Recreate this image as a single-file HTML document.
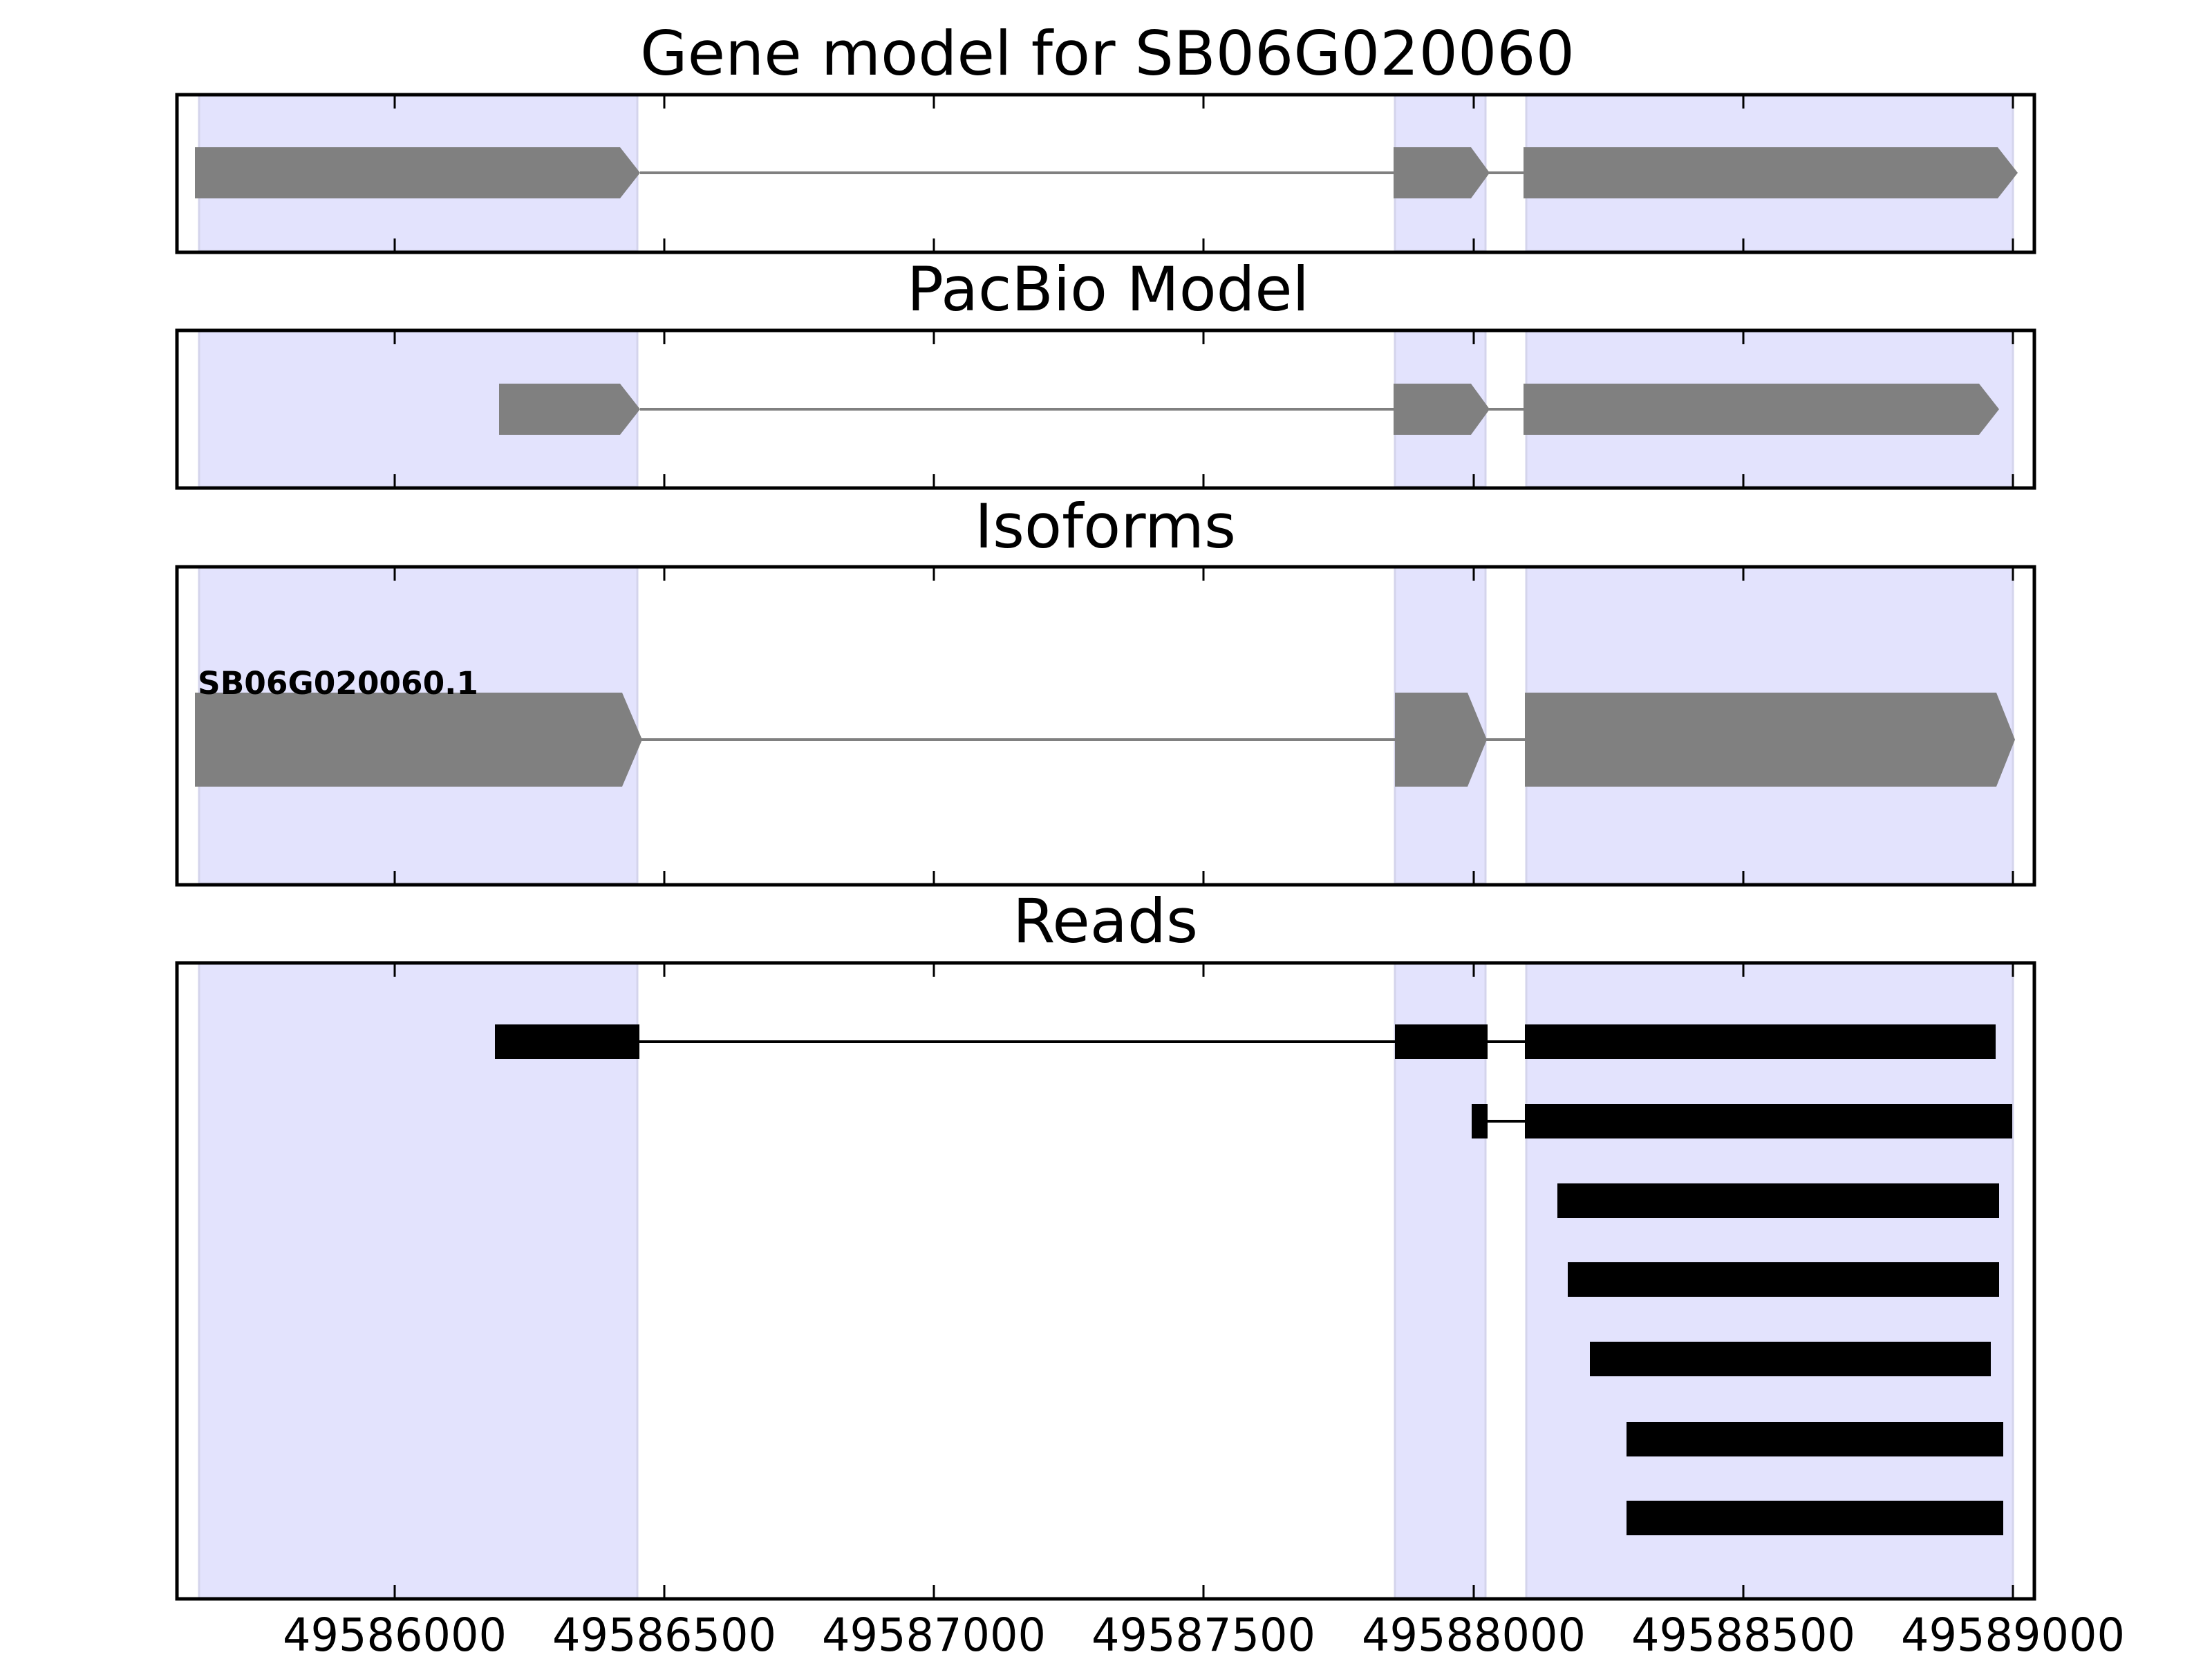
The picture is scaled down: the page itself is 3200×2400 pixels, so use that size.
<!DOCTYPE html>
<html><head><meta charset="utf-8"><style>html,body{margin:0;padding:0;background:#fff}svg{display:block}</style></head>
<body>
<svg width="3200" height="2400" viewBox="0 0 3200 2400" xmlns="http://www.w3.org/2000/svg" font-family="'DejaVu Sans','Liberation Sans',sans-serif">
<defs>
<g id="shade">
<rect x="288" y="0" width="634" height="1" fill="#e3e3fd"/>
</g>
</defs>
<!-- panel backgrounds / shading -->
<g fill="#e3e3fd" stroke="#d4d4ec" stroke-width="3">
<rect x="288" y="137" width="634" height="226"/><rect x="2018" y="137" width="131" height="226"/><rect x="2208" y="137" width="704" height="226"/>
<rect x="288" y="478" width="634" height="226"/><rect x="2018" y="478" width="131" height="226"/><rect x="2208" y="478" width="704" height="226"/>
<rect x="288" y="820" width="634" height="458"/><rect x="2018" y="820" width="131" height="458"/><rect x="2208" y="820" width="704" height="458"/>
<rect x="288" y="1394" width="634" height="918"/><rect x="2018" y="1394" width="131" height="918"/><rect x="2208" y="1394" width="704" height="918"/>
</g>
<!-- Panel 1 gene model -->
<g fill="#808080">
<line x1="926" y1="250" x2="2205" y2="250" stroke="#808080" stroke-width="4"/>
<polygon points="282,213 897,213 926,250 897,287 282,287"/>
<polygon points="2016,213 2128,213 2155,250 2128,287 2016,287"/>
<polygon points="2204,213 2890,213 2919,250 2890,287 2204,287"/>
</g>
<!-- Panel 2 -->
<g fill="#808080">
<line x1="926" y1="592" x2="2205" y2="592" stroke="#808080" stroke-width="4"/>
<polygon points="722,555 897,555 926,592 897,629 722,629"/>
<polygon points="2016,555 2128,555 2155,592 2128,629 2016,629"/>
<polygon points="2204,555 2863,555 2892,592 2863,629 2204,629"/>
</g>
<!-- Panel 3 -->
<g fill="#808080">
<line x1="926" y1="1070" x2="2207" y2="1070" stroke="#808080" stroke-width="4"/>
<polygon points="282,1002 900,1002 929,1070 900,1138 282,1138"/>
<polygon points="2018,1002 2123,1002 2151,1070 2123,1138 2018,1138"/>
<polygon points="2206,1002 2888,1002 2915,1070 2888,1138 2206,1138"/>
</g>
<text x="286" y="1004" font-size="45" font-weight="bold" textLength="406" lengthAdjust="spacingAndGlyphs">SB06G020060.1</text>
<!-- Panel 4 reads -->
<g fill="#000">
<line x1="925" y1="1507" x2="2206" y2="1507" stroke="#000" stroke-width="4"/>
<rect x="716" y="1482" width="209" height="50"/><rect x="2018" y="1482" width="134" height="50"/><rect x="2206" y="1482" width="681" height="50"/>
<line x1="2152" y1="1622" x2="2206" y2="1622" stroke="#000" stroke-width="4"/>
<rect x="2129" y="1597" width="23" height="50"/><rect x="2206" y="1597" width="705" height="50"/>
<rect x="2253" y="1712" width="639" height="50"/>
<rect x="2268" y="1826" width="624" height="50"/>
<rect x="2300" y="1941" width="580" height="50"/>
<rect x="2353" y="2057" width="545" height="50"/>
<rect x="2353" y="2171" width="545" height="50"/>
</g>
<!-- axes frames -->
<g fill="none" stroke="#000" stroke-width="5">
<rect x="256" y="137" width="2687" height="228"/>
<rect x="256" y="478" width="2687" height="228"/>
<rect x="256" y="820" width="2687" height="460"/>
<rect x="256" y="1393" width="2687" height="920"/>
</g>
<!-- ticks -->
<g stroke="#000" stroke-width="3">
<path d="M571 137v20M961 137v20M1351 137v20M1741 137v20M2132 137v20M2522 137v20M2912 137v20
M571 365v-20M961 365v-20M1351 365v-20M1741 365v-20M2132 365v-20M2522 365v-20M2912 365v-20
M571 478v20M961 478v20M1351 478v20M1741 478v20M2132 478v20M2522 478v20M2912 478v20
M571 706v-20M961 706v-20M1351 706v-20M1741 706v-20M2132 706v-20M2522 706v-20M2912 706v-20
M571 820v20M961 820v20M1351 820v20M1741 820v20M2132 820v20M2522 820v20M2912 820v20
M571 1280v-20M961 1280v-20M1351 1280v-20M1741 1280v-20M2132 1280v-20M2522 1280v-20M2912 1280v-20
M571 1393v20M961 1393v20M1351 1393v20M1741 1393v20M2132 1393v20M2522 1393v20M2912 1393v20
M571 2313v-20M961 2313v-20M1351 2313v-20M1741 2313v-20M2132 2313v-20M2522 2313v-20M2912 2313v-20"/>
</g>
<!-- titles -->
<g font-size="88" text-anchor="middle" fill="#000">
<text x="1602" y="108" textLength="1352" lengthAdjust="spacingAndGlyphs">Gene model for SB06G020060</text>
<text x="1603" y="449" textLength="582" lengthAdjust="spacingAndGlyphs">PacBio Model</text>
<text x="1599" y="792" textLength="378" lengthAdjust="spacingAndGlyphs">Isoforms</text>
<text x="1599" y="1363" textLength="268" lengthAdjust="spacingAndGlyphs">Reads</text>
</g>
<g font-size="66" text-anchor="middle" fill="#000">
<text x="571" y="2388" textLength="324" lengthAdjust="spacingAndGlyphs">49586000</text>
<text x="961" y="2388" textLength="324" lengthAdjust="spacingAndGlyphs">49586500</text>
<text x="1351" y="2388" textLength="324" lengthAdjust="spacingAndGlyphs">49587000</text>
<text x="1741" y="2388" textLength="324" lengthAdjust="spacingAndGlyphs">49587500</text>
<text x="2132" y="2388" textLength="324" lengthAdjust="spacingAndGlyphs">49588000</text>
<text x="2522" y="2388" textLength="324" lengthAdjust="spacingAndGlyphs">49588500</text>
<text x="2912" y="2388" textLength="324" lengthAdjust="spacingAndGlyphs">49589000</text>
</g>
</svg>
</body></html>
